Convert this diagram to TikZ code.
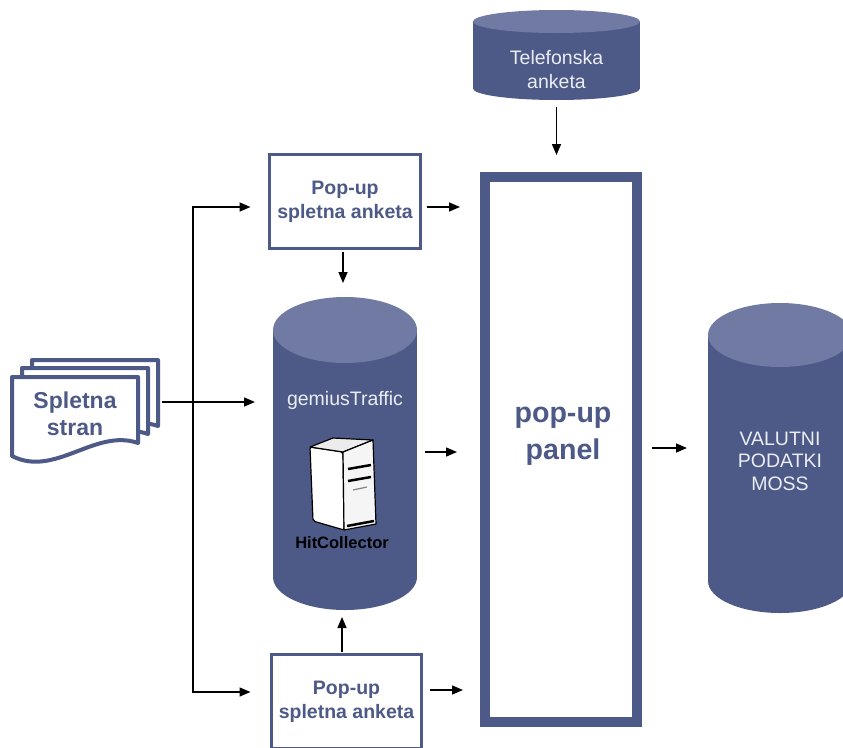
\documentclass[tikz,border=0pt]{standalone}
\usepackage{fontspec}
\setmainfont{Liberation Sans}
\usetikzlibrary{arrows.meta,calc}
\definecolor{cbody}{RGB}{77,90,135}
\definecolor{ctop}{RGB}{112,122,163}
\definecolor{bline}{RGB}{77,90,135}
\definecolor{ctxt}{RGB}{235,237,243}
\tikzset{
 arr/.style={line width=1.5pt, -{Triangle[length=11pt,width=9pt]}},
 ln/.style={line width=1.5pt},
 survey/.style={draw=bline, line width=3pt, fill=white, minimum width=151pt, minimum height=94pt, inner sep=0pt, align=center, font=\bfseries\fontsize{19.5}{24}\selectfont, text=bline},
 cyltext/.style={text=ctxt, align=center, font=\fontsize{19.5}{23.5}\selectfont, inner sep=0pt},
 holder/.style={inner sep=0pt, outer sep=0pt},
 pagebox/.style={draw=bline, line width=4pt, fill=white, line join=round},
 srv/.style={draw=black, line width=1.2pt, line join=round},
}
\newcommand{\drawcyl}[5]{%
 \fill[cbody] ({#1-#4},{#2+#5}) rectangle ({#1+#4},{#3-#5});
 \fill[cbody] (#1,{#3-#5}) ellipse [x radius=#4, y radius=#5];
 \fill[ctop] (#1,{#2+#5}) ellipse [x radius=#4, y radius=#5];}
\begin{document}
\begin{tikzpicture}[x=1pt,y=-1pt]
\useasboundingbox (0,0) rectangle (843,747);
\clip (0,0) rectangle (843,747);
\fill[white] (0,0) rectangle (843,747);

% cylinders
\drawcyl{556.5}{10}{100}{83.5}{11.5}
\drawcyl{345}{297}{610}{72}{33}
\drawcyl{780}{303}{613}{72}{32}
\node[holder, minimum width=167pt, minimum height=90pt] (tel) at (556.5,55) {};
\node[holder, minimum width=144pt, minimum height=313pt] (gem) at (345,453.5) {};
\node[holder, minimum width=144pt, minimum height=310pt] (moss) at (780,458) {};
\node[cyltext] (tellab) at (556.5,69.5) {Telefonska\\anketa};
\node[cyltext] (gemlab) at (345,400) {gemiusTraffic};
\node[cyltext, font=\fontsize{19.5}{22.5}\selectfont] (mosslab) at (780,461) {VALUTNI\\PODATKI\\MOSS};

% server icon
\filldraw[srv, fill=white, rounded corners=2pt] (310,447) -- (343,452) -- (344,530) -- (313,521) -- cycle;
\filldraw[srv, fill=gray!15] (310,447) -- (333,438) -- (373,440) -- (343,452) -- cycle;
\filldraw[srv, fill=gray!8] (343,452) -- (373,440) -- (376,524) -- (344,530) -- cycle;
\draw[line width=2.5pt] (348,469) -- (371,465);
\draw[line width=2.5pt] (348,481) -- (371,477);
\draw[line width=1.2pt, gray] (353,490) -- (367,487);
\draw[line width=2.5pt] (347,526) -- (374,521);
\node[holder, font=\bfseries\fontsize{16.5}{18}\selectfont, text=black] (hit) at (342,543) {HitCollector};

% pop-up panel
\node[draw=bline, line width=10pt, minimum width=152pt, minimum height=545pt, inner sep=0pt] (panel) at (561,449.5) {};
\node[holder, align=center, text=bline, font=\bfseries\fontsize{28.6}{37}\selectfont] (panlab) at (563,436.5) {pop-up\\panel};

% survey boxes
\node[survey] (pb1) at (345,201.5) {Pop-up\\spletna anketa};
\node[survey, minimum width=150pt] (pb2) at (346.5,701.5) {Pop-up\\spletna anketa};

% document stack
\begin{scope}[shift={(20,-17)}]
\filldraw[pagebox] (12,377) -- (138,377) -- (138,443) .. controls (95,428) and (55,478) .. (12,456) -- cycle;
\end{scope}
\begin{scope}[shift={(10,-9)}]
\filldraw[pagebox] (12,377) -- (138,377) -- (138,443) .. controls (95,428) and (55,478) .. (12,456) -- cycle;
\end{scope}
\filldraw[pagebox] (12,377) -- (138,377) -- (138,443) .. controls (95,428) and (55,478) .. (12,456) -- cycle;
\node[holder, minimum width=126pt, align=center, text=bline, font=\bfseries\fontsize{23}{27}\selectfont] (doc) at (75,413.5) {Spletna\\stran};

% connectors
\coordinate (j) at ([xshift=55pt, yshift=11.5pt]doc.east);
\draw[arr, shorten <=24pt, shorten >=18pt] ([yshift=11.5pt]doc.east) -- ([yshift=11.5pt]doc.east -| gem.west);
\draw[arr, shorten >=17.5pt] (j) |- ([yshift=-5.5pt]pb1.west);
\draw[arr, shorten >=19.5pt] (j) |- ([yshift=9.5pt]pb2.west);
\draw[arr, shorten <=4.5pt, shorten >=20pt] ([yshift=-5.5pt]pb1.east) -- ([yshift=-5.5pt]pb1.east -| panel.west);
\draw[arr, shorten <=8pt, shorten >=23pt] ([yshift=1.5pt]gem.east) -- ([yshift=1.5pt]gem.east -| panel.west);
\draw[arr, shorten <=6.5pt, shorten >=17pt] ([yshift=11.5pt]pb2.east) -- ([yshift=11.5pt]pb2.east -| panel.west);
\draw[arr, shorten <=7pt, shorten >=17pt] (tel.south) -- (tel.south |- panel.north);
\draw[arr, shorten <=10pt, shorten >=21pt] ([yshift=1.5pt]panel.east) -- ([yshift=1.5pt]panel.east -| moss.west);
\draw[arr, shorten <=1.5pt, shorten >=14pt] ([xshift=-2pt]pb1.south) -- ([xshift=-2pt]pb1.south |- gem.north);
\draw[arr, shorten <=1.5pt, shorten >=7pt] ([xshift=-4.5pt]pb2.north) -- ([xshift=-4.5pt]pb2.north |- gem.south);
\end{tikzpicture}
\end{document}
